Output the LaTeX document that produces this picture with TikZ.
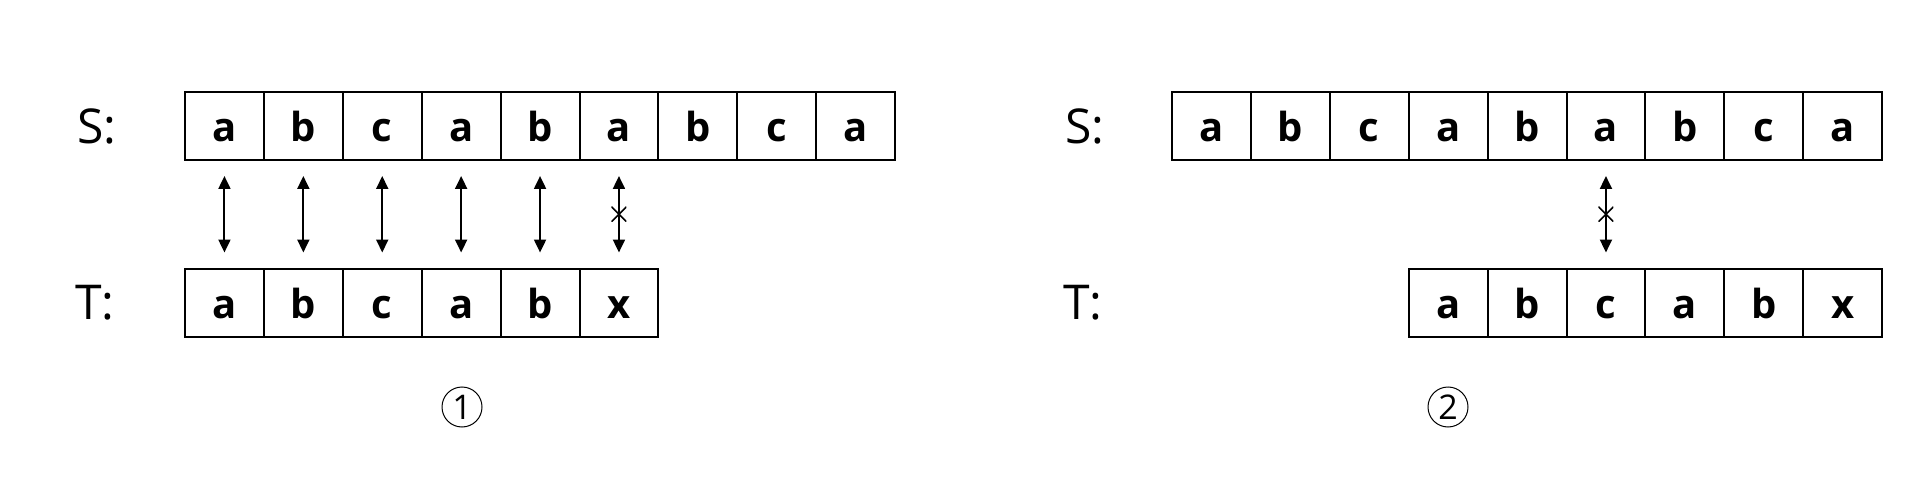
\documentclass[tikz,border=0pt]{standalone}
\usepackage{fontspec}
\setmainfont{Open Sans}
\usepackage{tikz}
\usetikzlibrary{arrows.meta}

\begin{document}
\begin{tikzpicture}[x=1pt, y=-1pt,
        cell/.style={draw, line width=2pt, minimum width=78.9pt, minimum height=68pt, inner sep=0pt, text height=31pt, text depth=0pt, font=\fontsize{40}{48}\selectfont\bfseries},
        tag/.style={anchor=west, inner sep=0pt, font=\fontsize{48}{58}\selectfont},
        link/.style={{Triangle[length=13pt,width=12pt]}-{Triangle[length=13pt,width=12pt]}, line width=2pt, shorten <=15pt, shorten >=15pt},
        miss/.style={minimum size=15pt, inner sep=0pt, path picture={\draw[arrows=-, shorten <=0pt, shorten >=0pt, line width=1.5pt] (path picture bounding box.north west) -- (path picture bounding box.south east) (path picture bounding box.north east) -- (path picture bounding box.south west);}},
        stepno/.style={circle, draw, line width=1pt, minimum size=40pt, inner sep=0pt, font=\fontsize{34}{40}\selectfont}]
        \useasboundingbox (0,0) rectangle (1922,497);

        \node[tag] (sl) at (77, 126) {S:};
        \node[tag] (tl) at (75, 303) {T:};
        \node[cell] (s1) at (224.45, 126) {a};
        \node[cell] (s2) at (303.35, 126) {b};
        \node[cell] (s3) at (382.25, 126) {c};
        \node[cell] (s4) at (461.15, 126) {a};
        \node[cell] (s5) at (540.05, 126) {b};
        \node[cell] (s6) at (618.95, 126) {a};
        \node[cell] (s7) at (697.85, 126) {b};
        \node[cell] (s8) at (776.75, 126) {c};
        \node[cell] (s9) at (855.65, 126) {a};
        \node[cell] (t1) at (224.45, 302.5) {a};
        \node[cell] (t2) at (303.35, 302.5) {b};
        \node[cell] (t3) at (382.25, 302.5) {c};
        \node[cell] (t4) at (461.15, 302.5) {a};
        \node[cell] (t5) at (540.05, 302.5) {b};
        \node[cell] (t6) at (618.95, 302.5) {x};

        \draw (s1) edge[link] (t1);
        \draw (s2) edge[link] (t2);
        \draw (s3) edge[link] (t3);
        \draw (s4) edge[link] (t4);
        \draw (s5) edge[link] (t5);
        \draw (s6) edge[link] node[miss]{} (t6);

        \node[stepno] (one) at (462, 407) {1};

        \node[tag] (sr) at (1065, 126) {S:};
        \node[tag] (tr) at (1063, 303) {T:};
        \node[cell] (u1) at (1211.45, 126) {a};
        \node[cell] (u2) at (1290.35, 126) {b};
        \node[cell] (u3) at (1369.25, 126) {c};
        \node[cell] (u4) at (1448.15, 126) {a};
        \node[cell] (u5) at (1527.05, 126) {b};
        \node[cell] (u6) at (1605.95, 126) {a};
        \node[cell] (u7) at (1684.85, 126) {b};
        \node[cell] (u8) at (1763.75, 126) {c};
        \node[cell] (u9) at (1842.65, 126) {a};
        \node[cell] (v1) at (1448.15, 302.5) {a};
        \node[cell] (v2) at (1527.05, 302.5) {b};
        \node[cell] (v3) at (1605.95, 302.5) {c};
        \node[cell] (v4) at (1684.85, 302.5) {a};
        \node[cell] (v5) at (1763.75, 302.5) {b};
        \node[cell] (v6) at (1842.65, 302.5) {x};

        \draw (u6) edge[link] node[miss]{} (v3);

        \node[stepno] (two) at (1448, 407) {2};
    \end{tikzpicture}
\end{document}
